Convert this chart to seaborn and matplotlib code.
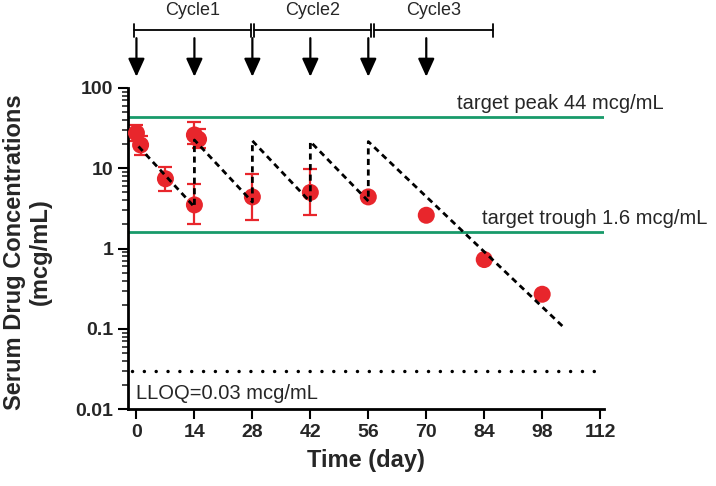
import numpy as np
import pandas as pd
import matplotlib
matplotlib.use("Agg")
import matplotlib.pyplot as plt
import seaborn as sns

# observed concentrations (mean, with error bar limits)
obs_day = [0, 1, 7, 14, 14, 15, 28, 42, 56, 70, 84, 98]
obs_conc = [27.5, 19.5, 7.4, 3.5, 26.0, 23.0, 4.4, 5.0, 4.4, 2.6, 0.73, 0.27]
err_low = [21.6, 14.7, 5.15, 2.0, 20.0, 18.0, 2.3, 2.64, np.nan, np.nan, np.nan, np.nan]
err_high = [34.7, 25.5, 10.5, 6.4, 38.0, 31.0, 8.5, 9.8, np.nan, np.nan, np.nan, np.nan]

# model prediction (sawtooth)
model_day = [0.5, 14, 14, 28, 28, 42, 42, 56, 56, 103]
model_conc = [18.7, 3.3, 22.5, 3.8, 22.0, 3.8, 21.5, 3.9, 21.5, 0.107]

target_peak = 44
target_trough = 1.6
lloq = 0.03

dose_days = [0, 14, 28, 42, 56, 70]
cycle_names = ["Cycle1", "Cycle2", "Cycle3"]
cycle_bounds = [(-0.7, 27.6), (28.4, 56.6), (57.4, 86)]

red = "#e8262c"
green = "#189a6a"

sns.set_theme(style="ticks")
plt.rcParams["font.family"] = ["Liberation Sans", "DejaVu Sans"]

fig = plt.figure(figsize=(7.16, 4.86), dpi=100)
ax = fig.add_axes([0.179, 0.158, 0.665, 0.661])

obs = pd.DataFrame({"day": obs_day, "conc": obs_conc,
                    "lo": err_low, "hi": err_high})
model = pd.DataFrame({"day": model_day, "conc": model_conc})

# reference lines
ax.plot([-2, 113], [target_peak] * 2, color=green, lw=2, zorder=1)
ax.plot([-2, 113], [target_trough] * 2, color=green, lw=2, zorder=1)
ax.plot([-1, 112.5], [lloq] * 2, color="black", lw=2.5,
        linestyle=(0, (0.01, 3.4)), dash_capstyle="round", zorder=1)

# error bars
eb = obs.dropna()
ax.errorbar(eb["day"], eb["conc"],
            yerr=[eb["conc"] - eb["lo"], eb["hi"] - eb["conc"]],
            fmt="none", ecolor=red, elinewidth=1.6, capsize=5, capthick=1.6, zorder=2)

sns.scatterplot(data=obs, x="day", y="conc", ax=ax, color=red, s=150,
                edgecolor="none", zorder=3)
sns.lineplot(data=model, x="day", y="conc", ax=ax, sort=False, estimator=None,
             color="black", lw=2, linestyle=(0, (2.2, 1.6)), zorder=4)

ax.set_yscale("log")
ax.set_ylim(0.01, 100)
ax.set_xlim(-2, 113)
ax.set_xticks(range(0, 113, 14))
ax.set_yticks([0.01, 0.1, 1, 10, 100])
ax.set_yticklabels(["0.01", "0.1", "1", "10", "100"])

ax.tick_params(axis="both", which="major", labelsize=14, width=1.5, length=7,
               direction="out", color="black")
ax.tick_params(axis="y", which="minor", width=1.2, length=4, left=True)
for lab in ax.get_xticklabels() + ax.get_yticklabels():
    lab.set_fontweight("bold")
for s in ["left", "bottom"]:
    ax.spines[s].set_linewidth(2)
    ax.spines[s].set_color("black")
sns.despine(ax=ax)

ax.set_xlabel("Time (day)", fontsize=17, fontweight="bold", labelpad=6)
ax.set_ylabel("Serum Drug Concentrations\n(mcg/mL)", fontsize=17,
              fontweight="bold", linespacing=1.15)
ax.yaxis.set_label_coords(-0.16, 0.49)

ax.text(77.5, 55, "target peak 44 mcg/mL", fontsize=14.5,
        va="baseline", ha="left", clip_on=False)
ax.text(83.5, 2.0, "target trough 1.6 mcg/mL", fontsize=14.5,
        va="baseline", ha="left", clip_on=False)
ax.text(0, 0.0155, "LLOQ=0.03 mcg/mL", fontsize=14.5, va="center", ha="left")

# dosing arrows and cycle bar above the axes
tr = ax.get_xaxis_transform()
for d in dose_days:
    ax.annotate("", xy=(d, 1.035), xytext=(d, 1.155), xycoords=tr, textcoords=tr,
                arrowprops=dict(arrowstyle="-|>,head_length=0.55,head_width=0.25",
                                mutation_scale=20, color="black", lw=1.6,
                                shrinkA=0, shrinkB=0))
bar_y = 1.18
for name, (a, b) in zip(cycle_names, cycle_bounds):
    ax.plot([a, b], [bar_y, bar_y], transform=tr, color="black", lw=1.3, clip_on=False)
    for x in (a, b):
        ax.plot([x, x], [bar_y - 0.02, bar_y + 0.02], transform=tr, color="black",
                lw=1.3, clip_on=False)
    ax.text((a + b) / 2, 1.24, name, transform=tr, ha="center", va="center",
            fontsize=13)

fig.savefig("out.png", dpi=100)
